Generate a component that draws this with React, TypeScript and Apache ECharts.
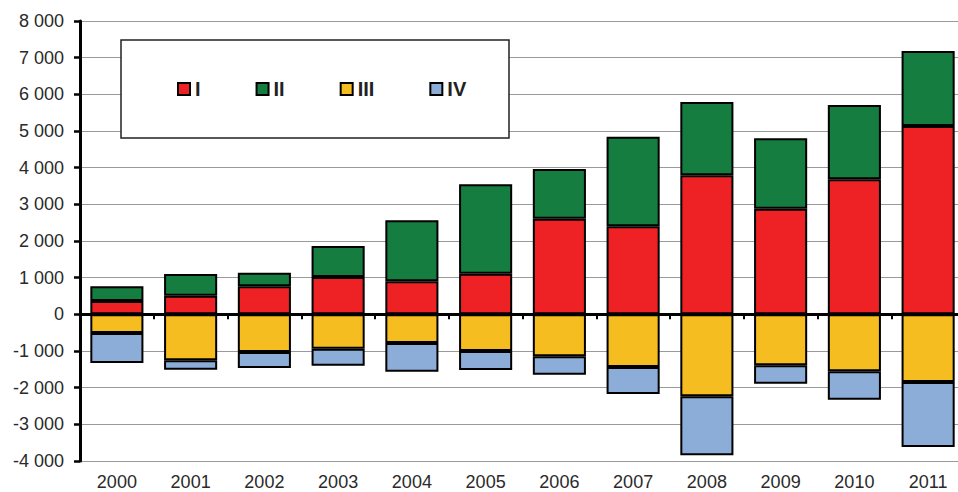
import React, { useEffect, useRef } from "react";
import * as echarts from "echarts";

const categories = ["2000", "2001", "2002", "2003", "2004", "2005", "2006", "2007", "2008", "2009", "2010", "2011"];
const seriesI = [363, 510, 764, 1020, 900, 1110, 2609, 2400, 3790, 2882, 3681, 5136];
const seriesII = [401, 590, 373, 843, 1663, 2435, 1354, 2445, 2000, 1918, 2027, 2044];
const seriesIII = [-509, -1254, -1027, -936, -782, -1000, -1145, -1436, -2236, -1391, -1554, -1845];
const seriesIV = [-818, -255, -436, -464, -781, -518, -500, -737, -1609, -500, -773, -1773];
const seriesNames = ["I", "II", "III", "IV"];
const seriesColors = ["#EE2224", "#147D3F", "#F5BD1F", "#8DADD9"];

function fmt(v: number): string {
  if (v === 0) return "0";
  const sign = v < 0 ? "-" : "";
  const a = Math.abs(v);
  const th = Math.floor(a / 1000);
  const rest = String(a % 1000).padStart(3, "0");
  return th > 0 ? sign + th + " " + rest : sign + a;
}

export default function App() {
  const ref = useRef<HTMLDivElement>(null);
  useEffect(() => {
    if (!ref.current) return;
    const chart = echarts.init(ref.current, undefined, { renderer: "svg" });
    const data = [seriesI, seriesII, seriesIII, seriesIV];
    const font = "'Liberation Sans', Arial, sans-serif";
    chart.setOption({
      animation: false,
      backgroundColor: "#ffffff",
      textStyle: { fontFamily: font },
      grid: { left: 80, right: 0, top: 21, bottom: 31, containLabel: false },
      legend: {
        data: seriesNames,
        left: 177,
        top: 79,
        padding: 0,
        icon: "rect",
        itemWidth: 12,
        itemHeight: 12,
        itemGap: 55,
        z: 5,
        textStyle: { fontSize: 20, fontWeight: "bold", color: "#222", fontFamily: font },
      },
      graphic: [
        {
          type: "rect",
          z: 3,
          shape: { x: 121, y: 40, width: 388, height: 98 },
          style: { fill: "#ffffff", stroke: "#222", lineWidth: 1.5 },
        },
      ],
      xAxis: [
        {
          type: "category",
          data: categories,
          axisLine: { onZero: true, lineStyle: { color: "#000", width: 3 } },
          axisTick: { show: true, inside: false, length: 5, lineStyle: { color: "#000", width: 2 } },
          axisLabel: { show: false },
          splitLine: { show: false },
        },
        {
          type: "category",
          data: categories,
          position: "bottom",
          axisLine: { show: false, onZero: false },
          axisTick: { show: false },
          axisLabel: { show: true, color: "#2a2a2a", fontSize: 18, margin: 12, fontFamily: font },
          splitLine: { show: false },
        },
      ],
      yAxis: {
        type: "value",
        min: -4000,
        max: 8000,
        interval: 1000,
        axisLine: { show: true, lineStyle: { color: "#000", width: 3 } },
        axisTick: { show: true, length: 6, lineStyle: { color: "#000", width: 2.5 } },
        axisLabel: { color: "#2a2a2a", fontSize: 18, margin: 16, formatter: (v: number) => fmt(v), fontFamily: font },
        splitLine: { show: true, lineStyle: { color: "#9a9a9a", width: 1 } },
      },
      series: seriesNames.map((name, i) => ({
        name,
        type: "bar",
        stack: "total",
        xAxisIndex: 0,
        barWidth: "72%",
        data: data[i],
        itemStyle: { color: seriesColors[i], borderColor: "#000", borderWidth: 2 },
      })),
    });
    return () => chart.dispose();
  }, []);
  return (
    <div style={{ position: "fixed", left: 0, top: 0, width: 958, height: 492, overflow: "hidden", background: "#fff" }}>
      <div ref={ref} style={{ width: 965, height: 492 }} />
    </div>
  );
}
